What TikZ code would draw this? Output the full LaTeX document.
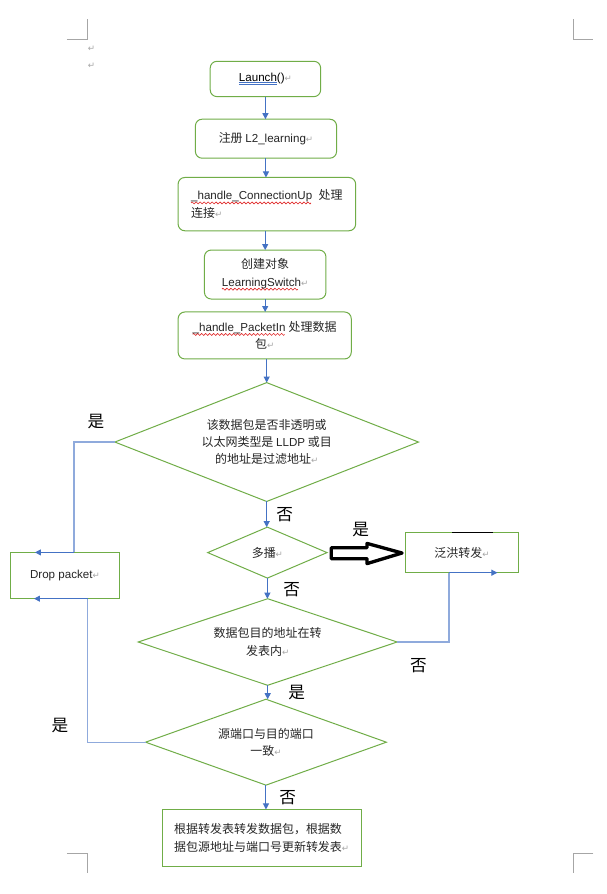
\documentclass[tikz,border=0pt]{standalone}
\usepackage{fontspec}
\setmainfont{Noto Sans CJK SC}
\newfontfamily\dejavu{DejaVu Sans}
\newfontfamily\latf{Liberation Sans}
\usetikzlibrary{arrows.meta,shapes.geometric}
\definecolor{gr}{HTML}{70AD47}
\definecolor{bl}{HTML}{4472C4}
\definecolor{lbl}{HTML}{8FAADC}
\definecolor{txt}{HTML}{262626}
\definecolor{mk}{HTML}{A6A6A6}
\definecolor{wv}{HTML}{E02020}
\newcommand\fs{\fontsize{9pt}{13pt}\selectfont}
\newcommand\fl{\fontsize{12.5pt}{14pt}\selectfont}
\newcommand\latn[1]{{\latf\fontsize{8.7pt}{13pt}\selectfont #1}}
\newcommand\retm{\textcolor{mk}{\dejavu\fontsize{6.5pt}{6.5pt}\selectfont ↵}}
\newsavebox\wsegbox
\newcommand\wavy[1]{\setbox0\hbox{#1}\rlap{\lower3pt\hbox to\wd0{\leaders\copy\wsegbox\hfil}}\box0}
\newcommand\dul[1]{\setbox0\hbox{#1}\rlap{\textcolor{bl}{\rule[-1.1pt]{\wd0}{0.4pt}}}\rlap{\textcolor{bl}{\rule[-2.7pt]{\wd0}{0.4pt}}}\box0}
\tikzset{
  rbox/.style={draw=gr,line width=0.75pt,rounded corners=5pt,fill=white,inner sep=0pt,outer sep=0pt,font=\fs,text=txt},
  sbox/.style={draw=gr,line width=0.75pt,fill=white,inner sep=0pt,outer sep=0pt,font=\fs,text=txt},
  dia/.style={draw=gr,line width=0.75pt,shape=diamond,inner sep=0pt,outer sep=0pt,font=\fs,text=txt,align=center},
  arr/.style={draw=bl,line width=0.75pt,-{Triangle[length=4.5pt,width=4.5pt]}},
  lline/.style={draw=lbl,line width=0.9pt},
  lab/.style={font=\fl,text=black,inner sep=0pt},
  cornermk/.style={draw=mk,line width=0.75pt},
  blockarr/.style={draw=black,line width=2.5pt,fill=white,line join=round}
}
\begin{document}
\begin{tikzpicture}[x=0.75pt,y=-0.75pt]
\global\sbox\wsegbox{\tikz[x=1pt,y=1pt]{\useasboundingbox (0,-0.8) rectangle (3,0.8);\draw[wv,line width=0.45pt,line cap=butt] (0,0) -- (0.75,0.75) -- (2.25,-0.75) -- (3,0);}}%
\fill[white] (0,0) rectangle (607,894);
\useasboundingbox (0,0) rectangle (607,894);

% corner marks
\draw[cornermk] (67,38) -- (88,38) -- (88,18);
\draw[cornermk] (574,18) -- (574,38) -- (594,38);
\draw[cornermk] (67,853) -- (88,853) -- (88,873);
\draw[cornermk] (594,853) -- (574,853) -- (574,873);
\node[inner sep=0pt] (r1) at (91.5,48) {\retm};
\node[inner sep=0pt] (r2) at (91.5,65) {\retm};

% boxes
\node[rbox,minimum width=82.9pt,minimum height=26.5pt] (b1) at (265.75,78) {\textcolor{black}{\latn{\dul{Launch}()}}\retm};
\node[rbox,minimum width=106pt,minimum height=29.25pt] (b2) at (266.3,137.8) {注册 \latn{L2\_learning}\retm};
\node[rbox,minimum width=133.3pt,minimum height=40pt,align=left] (b3) at (267.2,203.3) {\latn{\wavy{\_handle\_ConnectionUp}\ \ }处理\\连接\retm};
\node[rbox,minimum width=91.2pt,minimum height=36.75pt,align=center] (b4) at (265.5,273.8) {创建对象\\\latn{\wavy{LearningSwitch}}\retm};
\node[rbox,minimum width=130pt,minimum height=35.25pt,align=center] (b5) at (265,334.8) {\latn{\wavy{\_handle\_PacketIn}\ }处理数据\\包\retm};

% diamonds
\node[dia,shape aspect=2.55,minimum width=228pt,minimum height=89.25pt] (d1) at (267,441.5) {该数据包是否非透明或\\以太网类型是 \latn{LLDP} 或目\\的地址是过滤地址\retm};
\node[dia,shape aspect=2.34,minimum width=89.6pt,minimum height=38.25pt] (d2) at (267.7,552.2) {多播\retm};
\node[dia,shape aspect=2.99,minimum width=194.4pt,minimum height=65pt] (d3) at (268,641.7) {数据包目的地址在转\\发表内\retm};
\node[dia,shape aspect=2.8,minimum width=180.8pt,minimum height=64.5pt] (d4) at (266.3,742) {源端口与目的端口\\一致\retm};

% side boxes
\node[sbox,minimum width=81.7pt,minimum height=35pt] (drop) at (65,575) {\latn{Drop packet}\retm};
\node[sbox,minimum width=85.3pt,minimum height=30pt] (flood) at (462.5,552.3) {泛洪转发\retm};
\draw[black,line width=1.4pt] (453,532) -- (494,532);
\node[sbox,minimum width=149.4pt,minimum height=42.5pt,align=left] (fin) at (262,837.7) {根据转发表转发数据包，根据数\\据包源地址与端口号更新转发表\retm};

% main vertical connectors
\draw[arr] (b1.south) -- (b1.south |- b2.north);
\draw[arr] (b2.south) -- (b2.south |- b3.north);
\draw[arr] (b3.south -| b4.north) -- (b4.north);
\draw[arr] (b4.south) -- (b4.south |- b5.north);
\draw[arr] (d1.north |- b5.south) -- (d1.north);
\draw[arr] (d1.south) -- (d1.south |- d2.north);
\draw[arr] (d2.south) -- (d2.south |- d3.north);
\draw[arr] (d3.south) -- (d3.south |- d4.north);
\draw[arr] (d4.south) -- (d4.south |- fin.north);

% side connectors
\coordinate (j1) at (74,552);
\coordinate (j1e) at (35,552);
\draw[lline] (d1.west) -| (j1);
\draw[arr] (j1) -- (j1e);
\coordinate (j2) at (88,598.3);
\coordinate (j2e) at (34,598.3);
\draw[lline] (d4.west) -| (j2);
\draw[arr] (j2) -- (j2e);
\coordinate (j3) at (449.5,572.3);
\coordinate (j3e) at (498,572.3);
\draw[lline] (d3.east) -| (j3);
\draw[arr] (j3) -- (j3e);

% block arrow multicast -> flood
\draw[blockarr] (331.7,547.3) -- (367.5,547.3) -- (367.5,543) -- (402.5,552.6) -- (367.5,563.2) -- (367.5,558.3) -- (331.7,558.3) -- cycle;

% yes / no labels
\node[lab] (l1) at (96,421) {是};
\node[lab] (l2) at (285,514) {否};
\node[lab] (l3) at (361,529) {是};
\node[lab] (l4) at (292,589) {否};
\node[lab] (l5) at (419,665) {否};
\node[lab] (l6) at (297,692) {是};
\node[lab] (l7) at (60,725) {是};
\node[lab] (l8) at (288,798) {否};
\end{tikzpicture}
\end{document}
